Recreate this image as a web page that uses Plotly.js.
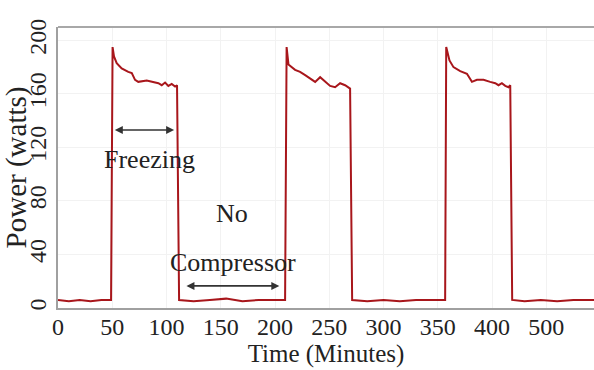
<!DOCTYPE html>
<html>
<head>
<meta charset="utf-8">
<script src="https://cdn.plot.ly/plotly-3.0.1.min.js"></script>
<style>html,body{margin:0;padding:0;background:#fff;}#chart{width:594px;height:370px;}</style>
</head>
<body>
<div id="chart"></div>
<script>
// Time (minutes) and power (watts)
const timeMin = [
  0, 10, 20, 30, 40, 48.9,
  50.3, 51.6, 54.1, 58.7, 64.8, 68, 71, 74, 81.8, 87.9, 92.5, 95.6, 98.7, 101.7, 104.8, 107.9, 109.7,
  111.6, 125, 140, 155, 170, 185, 200, 209.3,
  210.7, 212.4, 218.5, 223.1, 227.8, 232.4, 237, 241.6, 246.2, 250.8, 255.4, 260, 264.6, 269.2,
  271.1, 285, 300, 315, 330, 345, 356.8,
  357.8, 360.8, 364.5, 370.7, 376.9, 381.5, 386.1, 392.2, 398.3, 403, 406, 409.1, 412.2, 415.2, 416.8,
  418.6, 430, 445, 460, 475, 494
];
const powerW = [
  6, 5, 6, 5, 6, 6,
  195, 188, 183, 179, 176.5, 175.5, 170.5, 169, 170, 169, 168, 166.5, 168.5, 166, 167.5, 165.5, 166.5,
  6, 5, 6, 7, 5, 6, 6, 6,
  195, 182, 178, 176.5, 174, 171.5, 169, 172.5, 169, 166, 165, 168, 166.5, 164,
  6, 5, 6, 5, 6, 6, 6,
  195, 185, 180, 177, 175, 169, 170.5, 170.5, 169, 168, 166.5, 168, 166, 165, 166.5,
  6, 5, 6, 5, 6, 6
];

const xTickVals = [0, 50, 100, 150, 200, 250, 300, 350, 400, 450];
const xTickText = ['0', '50', '100', '150', '200', '250', '300', '350', '400', '500'];
const yTickVals = [0, 40, 80, 120, 160, 200];

const serif = '"Liberation Serif"';

const trace = {
  x: timeMin, y: powerW, type: 'scatter', mode: 'lines',
  line: {color: '#a8161b', width: 2},
  hoverinfo: 'skip', showlegend: false
};

const layout = {
  width: 594, height: 370,
  margin: {l: 58, r: 0, t: 27, b: 62},
  paper_bgcolor: '#ffffff', plot_bgcolor: '#ffffff',
  font: {family: serif, color: '#222'},
  xaxis: {
    range: [0, 494], tickvals: xTickVals, ticktext: xTickText,
    tickfont: {family: serif, size: 24, color: '#222'},
    ticklabelstandoff: -4,
    showline: true, linecolor: '#a0a0a0', linewidth: 2,
    showgrid: true, gridcolor: '#f2f2f2', zeroline: false, ticks: '',
    title: {text: 'Time (Minutes)', font: {family: serif, size: 25, color: '#222'}, standoff: 0}
  },
  yaxis: {
    range: [0, 210], tickvals: yTickVals, tickangle: -90,
    tickfont: {family: serif, size: 24, color: '#222'},
    showline: true, linecolor: '#a0a0a0', linewidth: 2,
    showgrid: true, gridcolor: '#f2f2f2', zeroline: false, ticks: '',
    title: {text: 'Power (watts)', font: {family: serif, size: 29, color: '#222'}, standoff: 2}
  },
  shapes: [
    {type: 'line', xref: 'paper', yref: 'paper', x0: 0, x1: 1, y0: 1, y1: 1,
     line: {color: '#a8a8a8', width: 2}}
  ],
  annotations: [
    {x: 84, y: 111, xref: 'x', yref: 'y', text: 'Freezing', showarrow: false,
     font: {family: serif, size: 26, color: '#222'}},
    {x: 160, y: 71, xref: 'x', yref: 'y', text: 'No', showarrow: false,
     font: {family: serif, size: 26, color: '#222'}},
    {x: 161, y: 34, xref: 'x', yref: 'y', text: 'Compressor', showarrow: false,
     font: {family: serif, size: 26, color: '#222'}},
    {x: 107, y: 133, ax: 51, ay: 133, xref: 'x', yref: 'y', axref: 'x', ayref: 'y',
     text: '', showarrow: true, arrowhead: 2, startarrowhead: 2, arrowside: 'end+start',
     arrowsize: 1, arrowwidth: 1.6, arrowcolor: '#333'},
    {x: 204, y: 16.5, ax: 117, ay: 16.5, xref: 'x', yref: 'y', axref: 'x', ayref: 'y',
     text: '', showarrow: true, arrowhead: 2, startarrowhead: 2, arrowside: 'end+start',
     arrowsize: 1, arrowwidth: 1.6, arrowcolor: '#333'}
  ]
};

Plotly.newPlot('chart', [trace], layout, {displayModeBar: false, staticPlot: true});
</script>
</body>
</html>
